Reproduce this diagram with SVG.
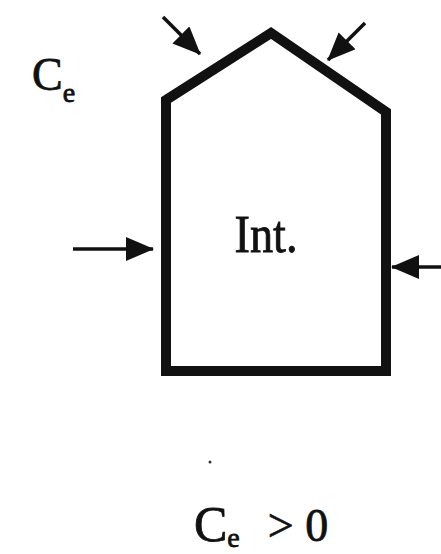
<svg xmlns="http://www.w3.org/2000/svg" width="441" height="554" viewBox="0 0 441 554">
<style>
.t{font-family:"Liberation Serif","Times New Roman",serif;fill:#111;stroke:#111;stroke-width:0.8;}
.house{fill:none;stroke:#111;stroke-width:10;stroke-linejoin:miter;}
.arr{stroke:#111;stroke-width:3.5;fill:none;marker-end:url(#ah);}
</style>
<defs>
<marker id="ah" markerUnits="userSpaceOnUse" markerWidth="28" markerHeight="26" refX="27" refY="12" orient="auto">
<path d="M0,0 L28,12 L0,24 z" fill="#111"/>
</marker>
</defs>
<rect width="441" height="554" fill="#fff"/>
<g id="house">
<polygon class="house" points="166,100 271,33 386,112 386,371 166,371"/>
<text class="t" x="266" y="252" font-size="52" text-anchor="middle" textLength="63" lengthAdjust="spacingAndGlyphs">Int.</text>
</g>
<g id="label-ce">
<text class="t" x="32" y="90" font-size="46">C<tspan font-size="28" dy="12">e</tspan></text>
</g>
<g id="label-condition">
<text class="t" x="194" y="541" font-size="50">C<tspan font-size="28" dy="6">e</tspan><tspan dx="28" dy="-6" font-size="46">&gt; 0</tspan></text>
<circle cx="210" cy="462" r="1.5" fill="#333"/>
</g>
<g id="connectors">
<line class="arr" x1="163" y1="17" x2="200" y2="54"/>
<line class="arr" x1="365" y1="23" x2="328" y2="60"/>
<line class="arr" x1="73" y1="249" x2="153" y2="249"/>
<line class="arr" x1="441" y1="267" x2="392" y2="267"/>
</g>
</svg>
